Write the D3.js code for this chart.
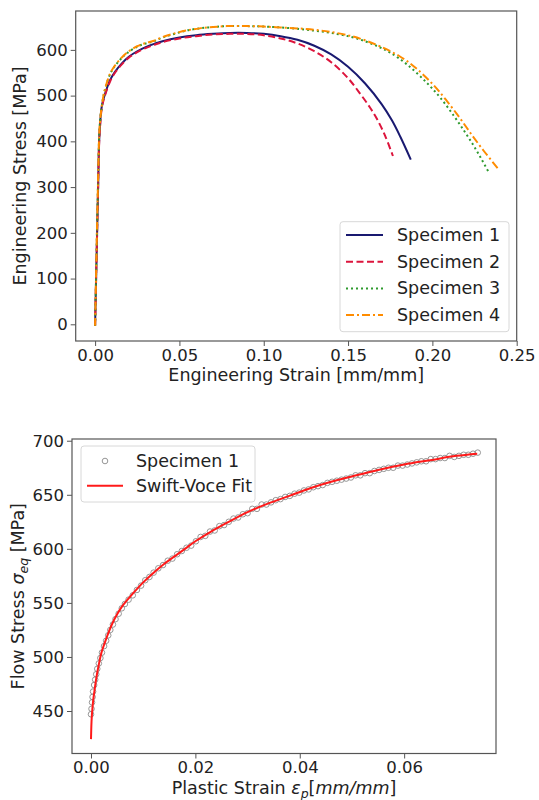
<!DOCTYPE html>
<html>
<head>
<meta charset="utf-8">
<script src="https://cdn.jsdelivr.net/npm/d3@7"></script>
<style>
  body { margin: 0; background: #fff; }
  text { font-family: "DejaVu Sans", sans-serif; fill: #222; }
</style>
</head>
<body>
<div id="chart"></div>
<script>
// ---- data: engineering stress-strain curves (top panel)
const specimenNames = ['Specimen 1', 'Specimen 2', 'Specimen 3', 'Specimen 4'];

const strain1 = [0, 0.0006, 0.0012, 0.0018, 0.0024, 0.003, 0.0037, 0.0045, 0.006, 0.009, 0.012, 0.016, 0.020, 0.025, 0.030, 0.035, 0.040, 0.050, 0.060, 0.070, 0.080, 0.090, 0.100, 0.110, 0.120, 0.130, 0.140, 0.150, 0.160, 0.170, 0.176, 0.181, 0.1872];
const stress1 = [-3, 100, 200, 300, 400, 440, 470, 486, 505, 535, 553, 571, 585, 597, 606, 613, 619, 627, 632, 635, 637, 637, 635, 630, 622, 609, 590, 563, 527, 481, 446, 410, 360];

const strain2 = [0, 0.0006, 0.0012, 0.0018, 0.0024, 0.003, 0.0037, 0.0045, 0.006, 0.009, 0.012, 0.016, 0.020, 0.025, 0.030, 0.035, 0.040, 0.050, 0.060, 0.070, 0.080, 0.090, 0.100, 0.110, 0.120, 0.130, 0.140, 0.150, 0.157, 0.163, 0.167, 0.172, 0.1766];
const stress2 = [-3, 100, 200, 300, 395, 435, 465, 482, 502, 532, 551, 569, 583, 595, 604, 611, 617, 625, 630, 634, 635, 635, 632, 625, 614, 597, 573, 538, 505, 474, 450, 412, 368];

const strain3 = [0, 0.0006, 0.0012, 0.0018, 0.0024, 0.003, 0.0045, 0.006, 0.009, 0.012, 0.016, 0.019, 0.025, 0.030, 0.035, 0.040, 0.048, 0.055, 0.062, 0.070, 0.078, 0.090, 0.100, 0.110, 0.120, 0.130, 0.140, 0.151, 0.160, 0.168, 0.175, 0.185, 0.1967, 0.205, 0.2125, 0.219, 0.2244, 0.229, 0.2333];
const stress3 = [-3, 110, 220, 320, 410, 447, 490, 515, 548, 566, 583, 593, 607, 614, 619, 627, 636, 643, 647, 650, 652, 652, 651, 649, 646, 642, 637, 629, 619, 607, 594, 568, 528, 494, 457, 422, 391, 362, 333];

const strain4 = [0, 0.0006, 0.0012, 0.0018, 0.0024, 0.003, 0.0045, 0.006, 0.009, 0.012, 0.016, 0.019, 0.025, 0.030, 0.035, 0.040, 0.048, 0.055, 0.062, 0.070, 0.078, 0.090, 0.100, 0.110, 0.120, 0.130, 0.140, 0.151, 0.160, 0.170, 0.181, 0.190, 0.2007, 0.208, 0.2165, 0.223, 0.2303, 0.2388];
const stress4 = [-3, 110, 220, 320, 410, 447, 490, 516, 549, 567, 584, 594, 608, 615, 620, 628, 637, 643, 647, 650, 652, 652, 651, 649, 647, 644, 639, 631, 621, 606, 585, 561, 523, 491, 450, 416, 380, 341];

const xTicksTop = [0, 0.05, 0.10, 0.15, 0.20, 0.25];
const yTicksTop = [0, 100, 200, 300, 400, 500, 600];

// ---- data: flow stress (bottom panel)
const flowStrain = [0, 0.0001, 0.0002, 0.0003, 0.0004, 0.0006, 0.0008, 0.001, 0.0012, 0.0015, 0.0018, 0.0021, 0.0025, 0.0029, 0.0033, 0.0037, 0.0042, 0.0047, 0.0053, 0.0059,
  0.0065, 0.0072, 0.008, 0.0088, 0.0096, 0.0104, 0.0112, 0.012, 0.0129, 0.0138, 0.0147, 0.0156, 0.0165, 0.0174, 0.0183, 0.0192, 0.0201, 0.021, 0.0219, 0.0228,
  0.0237, 0.0246, 0.0255, 0.0264, 0.0273, 0.0282, 0.0291, 0.03, 0.0309, 0.0318, 0.0327, 0.0336, 0.0345, 0.0354, 0.0363, 0.0372, 0.0381, 0.039, 0.0399, 0.0408,
  0.0417, 0.0426, 0.0435, 0.0444, 0.0453, 0.0462, 0.0471, 0.048, 0.0489, 0.0498, 0.0507, 0.0516, 0.0525, 0.0534, 0.0543, 0.0552, 0.0561, 0.057, 0.0579, 0.0588,
  0.0597, 0.0606, 0.0615, 0.0624, 0.0633, 0.0642, 0.0651, 0.066, 0.0669, 0.0678, 0.0687, 0.0696, 0.0705, 0.0714, 0.0723, 0.0732, 0.0741];
const flowStress = [447, 452, 458, 463, 468, 474, 479, 484, 489, 494, 499, 504, 510, 515, 520, 525, 530, 535, 540, 545,
  549, 553, 557, 562, 566, 571, 574, 578, 582, 585, 589, 591, 595, 598, 601, 603, 607, 611, 612, 616,
  617, 621, 622, 625, 628, 629, 632, 633, 637, 637, 641, 641, 643, 645, 646, 648, 649, 651, 652, 654,
  655, 657, 658, 659, 661, 662, 663, 664, 665, 666, 668, 668, 670, 670, 672, 673, 674, 675, 675, 677,
  677, 678, 679, 680, 681, 681, 683, 683, 684, 684, 686, 685, 686, 687, 687, 688, 689];

const fitStrain = [0, 0.0001, 0.0002, 0.0004, 0.0007, 0.001, 0.0015, 0.002, 0.003, 0.004, 0.005, 0.006, 0.008, 0.010, 0.012, 0.014, 0.016, 0.018, 0.020, 0.023, 0.026, 0.030, 0.034, 0.038, 0.042, 0.046, 0.050, 0.055, 0.060, 0.065, 0.070, 0.074];
const fitStress = [424, 440, 448, 459, 470, 480, 493, 504, 518, 530, 539.5, 547, 558.5, 569, 578, 586, 593, 600, 607, 616, 624, 634, 642, 649, 656, 662, 667, 673, 678, 682, 686, 688];

const xTicksBottom = [0, 0.02, 0.04, 0.06];
const yTicksBottom = [450, 500, 550, 600, 650, 700];

// ---- styles
const specColors = ['#191970', '#dc143c', '#2e9a2e', '#ff8c00'];
const specDash = [null, '7,3.5', '2,3', '8,3,2,3'];

const svg = d3.select('#chart').append('svg')
  .attr('width', 539)
  .attr('height', 800)
  .style('background', '#fff');

const tickFont = '16.5px';
const labelFont = '17.5px';

function drawAxes(g, x, y, box, xTicks, yTicks, xFmt, yFmt) {
  g.append('g')
    .attr('transform', 'translate(0,' + box.bottom + ')')
    .call(d3.axisBottom(x).tickValues(xTicks).tickFormat(xFmt).tickSize(5).tickPadding(3))
    .call(a => a.select('.domain').remove())
    .call(a => a.selectAll('line').attr('stroke', '#555'))
    .call(a => a.selectAll('text').style('font-size', tickFont).attr('fill', '#222').style('font-family', 'DejaVu Sans'));

  g.append('g')
    .attr('transform', 'translate(' + box.left + ',0)')
    .call(d3.axisLeft(y).tickValues(yTicks).tickFormat(yFmt).tickSize(5).tickPadding(3))
    .call(a => a.select('.domain').remove())
    .call(a => a.selectAll('line').attr('stroke', '#555'))
    .call(a => a.selectAll('text').style('font-size', tickFont).attr('fill', '#222').style('font-family', 'DejaVu Sans'));

  g.append('rect')
    .attr('x', box.left)
    .attr('y', box.top)
    .attr('width', box.right - box.left)
    .attr('height', box.bottom - box.top)
    .attr('fill', 'none')
    .attr('stroke', '#555')
    .attr('stroke-width', 1.2);
}

// ================= top panel
const box1 = { left: 75.7, right: 516.7, top: 11, bottom: 341 };
const x1 = d3.scaleLinear().domain([-0.0115, 0.25]).range([box1.left, box1.right]);
const y1 = d3.scaleLinear().domain([-36.5, 685]).range([box1.bottom, box1.top]);

const g1 = svg.append('g');

const curves = [
  d3.zip(strain1, stress1),
  d3.zip(strain2, stress2),
  d3.zip(strain3, stress3),
  d3.zip(strain4, stress4)
];

const line1 = d3.line()
  .x(d => x1(d[0]))
  .y(d => y1(d[1]))
  .curve(d3.curveCatmullRom.alpha(0.5));

curves.forEach((c, i) => {
  g1.append('path')
    .datum(c)
    .attr('d', line1)
    .attr('fill', 'none')
    .attr('stroke', specColors[i])
    .attr('stroke-width', 2)
    .attr('stroke-dasharray', specDash[i]);
});

drawAxes(g1, x1, y1, box1, xTicksTop, yTicksTop, d3.format('.2f'), d3.format('d'));

g1.append('text')
  .attr('x', (box1.left + box1.right) / 2)
  .attr('y', 381)
  .attr('text-anchor', 'middle')
  .style('font-size', labelFont)
  .text('Engineering Strain [mm/mm]');

g1.append('text')
  .attr('transform', 'translate(26,' + (box1.top + box1.bottom) / 2 + ') rotate(-90)')
  .attr('text-anchor', 'middle')
  .style('font-size', labelFont)
  .text('Engineering Stress [MPa]');

// legend top
const leg1 = g1.append('g');
leg1.append('rect')
  .attr('x', 340).attr('y', 221.7)
  .attr('width', 169).attr('height', 110)
  .attr('rx', 3)
  .attr('fill', '#fff').attr('fill-opacity', 0.8)
  .attr('stroke', '#d8d8d8');

specimenNames.forEach((name, i) => {
  const yy = 235 + i * 26.7;
  leg1.append('line')
    .attr('x1', 346).attr('x2', 383)
    .attr('y1', yy).attr('y2', yy)
    .attr('stroke', specColors[i])
    .attr('stroke-width', 2)
    .attr('stroke-dasharray', specDash[i]);
  leg1.append('text')
    .attr('x', 397)
    .attr('y', yy + 6)
    .style('font-size', labelFont)
    .text(name);
});

// ================= bottom panel
const box2 = { left: 72, right: 496, top: 439, bottom: 753.5 };
const x2 = d3.scaleLinear().domain([-0.00364, 0.0776]).range([box2.left, box2.right]);
const y2 = d3.scaleLinear().domain([410.7, 701.6]).range([box2.bottom, box2.top]);

const g2 = svg.append('g');

g2.selectAll('circle.pt')
  .data(d3.zip(flowStrain, flowStress))
  .join('circle')
  .attr('class', 'pt')
  .attr('cx', d => x2(d[0]))
  .attr('cy', d => y2(d[1]))
  .attr('r', 2.8)
  .attr('fill', 'none')
  .attr('stroke', '#8a8a8a')
  .attr('stroke-width', 0.9);

const line2 = d3.line()
  .x(d => x2(d[0]))
  .y(d => y2(d[1]))
  .curve(d3.curveCatmullRom.alpha(0.5));

g2.append('path')
  .datum(d3.zip(fitStrain, fitStress))
  .attr('d', line2)
  .attr('fill', 'none')
  .attr('stroke', '#ff1a1a')
  .attr('stroke-width', 2);

drawAxes(g2, x2, y2, box2, xTicksBottom, yTicksBottom, d3.format('.2f'), d3.format('d'));

const xl2 = g2.append('text')
  .attr('x', (box2.left + box2.right) / 2)
  .attr('y', 794)
  .attr('text-anchor', 'middle')
  .style('font-size', labelFont);
xl2.append('tspan').text('Plastic Strain ');
xl2.append('tspan').style('font-style', 'italic').text('ε');
xl2.append('tspan').style('font-style', 'italic').style('font-size', '12.5px').attr('dy', 4).text('p');
xl2.append('tspan').attr('dy', -4).text('[');
xl2.append('tspan').style('font-style', 'italic').text('mm/mm');
xl2.append('tspan').text(']');

const yl2 = g2.append('text')
  .attr('transform', 'translate(24,' + (box2.top + box2.bottom) / 2 + ') rotate(-90)')
  .attr('text-anchor', 'middle')
  .style('font-size', labelFont);
yl2.append('tspan').text('Flow Stress ');
yl2.append('tspan').style('font-style', 'italic').text('σ');
yl2.append('tspan').style('font-style', 'italic').style('font-size', '12.5px').attr('dy', 4).text('eq');
yl2.append('tspan').attr('dy', -4).text(' [MPa]');

// legend bottom
const leg2 = g2.append('g');
leg2.append('rect')
  .attr('x', 81).attr('y', 446)
  .attr('width', 174).attr('height', 56)
  .attr('rx', 3)
  .attr('fill', '#fff').attr('fill-opacity', 0.8)
  .attr('stroke', '#d8d8d8');
leg2.append('circle')
  .attr('cx', 105).attr('cy', 461)
  .attr('r', 2.8)
  .attr('fill', 'none')
  .attr('stroke', '#8a8a8a')
  .attr('stroke-width', 0.9);
leg2.append('text')
  .attr('x', 136).attr('y', 467)
  .style('font-size', labelFont)
  .text('Specimen 1');
leg2.append('line')
  .attr('x1', 87).attr('x2', 123)
  .attr('y1', 485.7).attr('y2', 485.7)
  .attr('stroke', '#ff1a1a')
  .attr('stroke-width', 2);
leg2.append('text')
  .attr('x', 136).attr('y', 492)
  .style('font-size', labelFont)
  .text('Swift-Voce Fit');
</script>
</body>
</html>
